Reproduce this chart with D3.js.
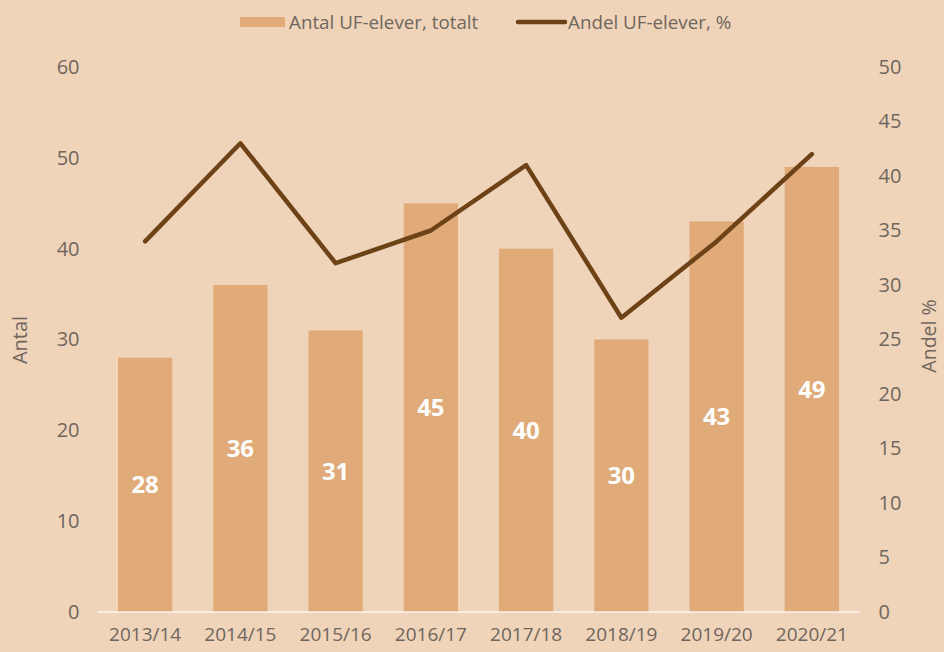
<!DOCTYPE html>
<html lang="sv">
<head>
<meta charset="utf-8">
<title>UF-elever</title>
<script src="https://cdn.jsdelivr.net/npm/d3@7"></script>
<style>
  html, body { margin: 0; padding: 0; background: #efd4b9; }
  svg { display: block; font-family: "Open Sans", "Liberation Sans", sans-serif; }
</style>
</head>
<body>
<script>
// data
var years = ["2013/14", "2014/15", "2015/16", "2016/17", "2017/18", "2018/19", "2019/20", "2020/21"];
var antal = [28, 36, 31, 45, 40, 30, 43, 49];
var andel = [34, 43, 32, 35, 41, 27, 34, 42];
var leftTicks = [0, 10, 20, 30, 40, 50, 60];
var rightTicks = [0, 5, 10, 15, 20, 25, 30, 35, 40, 45, 50];

var w = 944, h = 652;
var margin = {top: 67, right: 84.5, bottom: 40, left: 97.5};
var iw = w - margin.left - margin.right;
var ih = h - margin.top - margin.bottom;

var barColor = "#e0ab79";
var lineColor = "#6e4217";
var textColor = "#6f665d";

var svg = d3.select("body").append("svg")
  .attr("width", w)
  .attr("height", h);

svg.append("rect").attr("width", w).attr("height", h).attr("fill", "#efd4b9");

var g = svg.append("g").attr("transform", "translate(" + margin.left + "," + margin.top + ")");

var x = d3.scaleBand().domain(years).range([0, iw]).paddingInner(0.43).paddingOuter(0.215);
var yL = d3.scaleLinear().domain([0, 60]).range([ih, 0]);
var yR = d3.scaleLinear().domain([0, 50]).range([ih, 0]);

// bars
g.selectAll("rect.bar")
  .data(antal)
  .enter().append("rect")
  .attr("class", "bar")
  .attr("x", function(d, i) { return x(years[i]); })
  .attr("y", function(d) { return yL(d); })
  .attr("width", x.bandwidth())
  .attr("height", function(d) { return ih - yL(d); })
  .attr("fill", barColor);

// labels inside bars
g.selectAll("text.val")
  .data(antal)
  .enter().append("text")
  .attr("class", "val")
  .attr("x", function(d, i) { return x(years[i]) + x.bandwidth() / 2; })
  .attr("y", function(d) { return (yL(d) + ih) / 2; })
  .attr("dy", "0.36em")
  .attr("text-anchor", "middle")
  .attr("fill", "#ffffff")
  .style("font-size", "24px")
  .style("font-weight", "bold")
  .text(function(d) { return d; });

// baseline
g.append("line")
  .attr("x1", 0).attr("x2", iw)
  .attr("y1", ih).attr("y2", ih)
  .attr("stroke", "#ffffff").attr("stroke-opacity", 0.8)
  .attr("stroke-width", 1.5);

// line series
var line = d3.line()
  .x(function(d, i) { return x(years[i]) + x.bandwidth() / 2; })
  .y(function(d) { return yR(d); });

g.append("path")
  .datum(andel)
  .attr("d", line)
  .attr("fill", "none")
  .attr("stroke", lineColor)
  .attr("stroke-width", 4.5)
  .attr("stroke-linejoin", "round")
  .attr("stroke-linecap", "round");

// axes
var axL = g.append("g")
  .call(d3.axisLeft(yL).tickValues(leftTicks).tickSize(0).tickPadding(18));
var axR = g.append("g")
  .attr("transform", "translate(" + iw + ",0)")
  .call(d3.axisRight(yR).tickValues(rightTicks).tickSize(0).tickPadding(19));
var axB = g.append("g")
  .attr("transform", "translate(0," + ih + ")")
  .call(d3.axisBottom(x).tickSize(0).tickPadding(16));

[axL, axR, axB].forEach(function(a) {
  a.select(".domain").remove();
  a.selectAll("text").attr("fill", textColor).style("font-size", "19px").style("font-family", "\"Open Sans\", sans-serif");
});
axL.selectAll("text").style("font-size", "20px");
axR.selectAll("text").attr("text-anchor", "start").style("font-size", "20px");

// axis titles
svg.append("text")
  .attr("transform", "translate(27,340) rotate(-90)")
  .attr("text-anchor", "middle")
  .attr("fill", textColor)
  .style("font-size", "20px")
  .text("Antal");

svg.append("text")
  .attr("transform", "translate(936,336) rotate(-90)")
  .attr("text-anchor", "middle")
  .attr("fill", textColor)
  .style("font-size", "19.5px")
  .text("Andel %");

// legend
var leg = svg.append("g").attr("transform", "translate(0,22)");
leg.append("rect")
  .attr("x", 240).attr("y", -5).attr("width", 45).attr("height", 10)
  .attr("fill", barColor);
leg.append("text")
  .attr("x", 289).attr("y", 0).attr("dy", "0.35em")
  .attr("fill", textColor).style("font-size", "18.8px")
  .text("Antal UF-elever, totalt");
leg.append("line")
  .attr("x1", 518).attr("x2", 565).attr("y1", 0).attr("y2", 0)
  .attr("stroke", lineColor).attr("stroke-width", 4.5).attr("stroke-linecap", "round");
leg.append("text")
  .attr("x", 568).attr("y", 0).attr("dy", "0.35em")
  .attr("fill", textColor).style("font-size", "18.8px")
  .text("Andel UF-elever, %");
</script>
</body>
</html>
